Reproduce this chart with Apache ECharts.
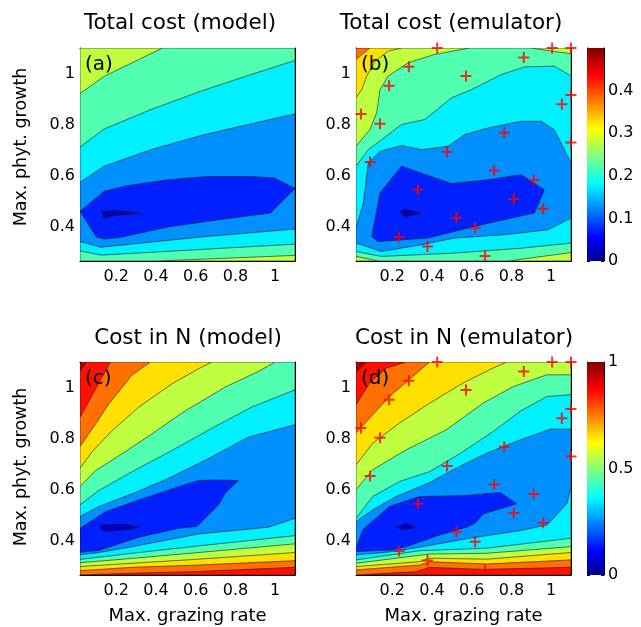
<!DOCTYPE html>
<html><head><meta charset="utf-8">
<script src="https://cdn.jsdelivr.net/npm/echarts@6/dist/echarts.min.js"></script>
<style>html,body{margin:0;padding:0;background:#fff}#c{width:641px;height:627px}</style>
</head><body><div id="c"></div>
<script>
// ---------- axis ranges and ticks ----------
const X_RANGE = [0.017, 1.1];
const Y_RANGE = [0.266, 1.1];
const X_TICKS = [0.2, 0.4, 0.6, 0.8, 1];
const Y_TICKS = [0.4, 0.6, 0.8, 1];
const CB_TOP_RANGE = [0, 0.5];
const CB_TOP_TICKS = [0, 0.1, 0.2, 0.3, 0.4];
const CB_BOTTOM_RANGE = [0, 1];
const CB_BOTTOM_TICKS = [0, 0.5, 1];

// band fill colours (jet, lowest band first)
const BAND_COLORS = ['#0000BF','#0020FF','#0090FF','#00F0FF','#50FFB0','#BFFF40','#FFE000','#FF7000','#FF1000','#B00000'];
// jet colormap stops for the colour bars
const JET_STOPS = [[0,'#00008F'],[0.111,'#0000FF'],[0.365,'#00FFFF'],[0.619,'#FFFF00'],[0.873,'#FF0000'],[1,'#800000']];

// ---------- contour levels ----------
const LEVELS_TOTAL = [0.35, 0.3, 0.25, 0.2, 0.15, 0.1, 0.05];
const LEVELS_N = [0.9, 0.8, 0.7, 0.6, 0.5, 0.4, 0.3, 0.2, 0.1];

// ---------- (a) Total cost (model): regions below each level ----------
const A_LT025 = [[0.017,0.922],[0.139,0.989],[0.433,1.1],[1.1,1.1],[1.1,0.288],[0.408,0.266],[0.017,0.266]];
const A_LT020 = [[0.017,0.712],[0.139,0.783],[0.374,0.859],[0.626,0.931],[0.878,0.996],[1.1,1.051],[1.1,0.332],[0.123,0.289],[0.017,0.306]];
const A_LT015 = [[0.017,0.574],[0.139,0.637],[0.374,0.702],[0.626,0.757],[0.878,0.803],[1.1,0.842],[1.1,0.391],[0.626,0.36],[0.123,0.32],[0.017,0.342]];
const A_LT010 = [[0.017,0.46],[0.139,0.539],[0.257,0.561],[0.458,0.584],[0.66,0.597],[0.878,0.597],[0.996,0.591],[1.1,0.55],[0.976,0.454],[0.71,0.427],[0.458,0.399],[0.223,0.359],[0.139,0.352],[0.101,0.359]];
const A_LT005 = [[0.128,0.46],[0.19,0.464],[0.316,0.454],[0.19,0.443],[0.136,0.434]];

// ---------- (b) Total cost (emulator) ----------
const B_LT035 = [[0.017,1.055],[0.087,1.1],[1.1,1.1],[1.1,0.266],[0.017,0.266]];
const B_LT030 = [[0.017,0.905],[0.046,0.937],[0.071,0.99],[0.113,1.048],[0.18,1.088],[0.25,1.1],[1.1,1.1],[1.1,0.266],[0.017,0.266]];
const B_LT025 = [[0.59,1.1],[0.9,1.1],[1.017,1.086],[1.1,1.078],[1.1,0.299],[0.782,0.266],[0.129,0.266],[0.017,0.284],[0.017,0.715],[0.087,0.78],[0.121,0.846],[0.138,0.937],[0.179,0.99],[0.28,1.042],[0.414,1.075]];
const B_LT020 = [[0.017,0.637],[0.079,0.702],[0.146,0.741],[0.246,0.8],[0.364,0.82],[0.498,0.905],[0.598,0.937],[0.749,0.996],[0.866,1.026],[1.016,1.029],[1.1,0.99],[1.1,0.336],[0.849,0.316],[0.514,0.297],[0.146,0.284],[0.017,0.303]];
const B_LT015 = [[0.017,0.395],[0.054,0.493],[0.079,0.65],[0.138,0.695],[0.246,0.718],[0.347,0.702],[0.481,0.715],[0.565,0.761],[0.682,0.787],[0.849,0.813],[0.949,0.813],[1.016,0.78],[1.1,0.65],[1.1,0.434],[0.983,0.388],[0.765,0.369],[0.514,0.356],[0.347,0.33],[0.146,0.303],[0.017,0.336]];
const B_LT010 = [[0.096,0.362],[0.138,0.532],[0.246,0.637],[0.347,0.61],[0.498,0.569],[0.682,0.584],[0.849,0.604],[0.966,0.545],[0.916,0.454],[0.682,0.414],[0.514,0.382],[0.38,0.356],[0.129,0.342]];
const B_LT005 = [[0.238,0.46],[0.263,0.469],[0.347,0.454],[0.263,0.438]];

// ---------- (c) Cost in N (model) ----------
const C_LT09 = [[0.017,1.063],[0.049,1.1],[1.1,1.1],[1.1,0.266],[0.017,0.266]];
const C_LT08 = [[0.017,0.884],[0.071,0.959],[0.121,1.031],[0.171,1.1],[1.1,1.1],[1.1,0.296],[0.615,0.28],[0.28,0.273],[0.017,0.266]];
const C_LT07 = [[0.017,0.769],[0.096,0.858],[0.163,0.937],[0.28,1.05],[0.372,1.1],[1.1,1.1],[1.1,0.322],[0.615,0.305],[0.28,0.296],[0.017,0.283]];
const C_LT06 = [[0.017,0.684],[0.079,0.75],[0.18,0.832],[0.314,0.924],[0.481,1.015],[0.615,1.074],[0.682,1.1],[1.1,1.1],[1.1,0.354],[0.615,0.328],[0.28,0.312],[0.017,0.299]];
const C_LT05 = [[0.017,0.612],[0.096,0.675],[0.23,0.741],[0.38,0.819],[0.548,0.909],[0.749,1.002],[0.916,1.063],[1.0,1.1],[1.1,1.1],[1.1,0.388],[0.615,0.354],[0.28,0.331],[0.017,0.314]];
const C_LT04 = [[0.017,0.541],[0.112,0.597],[0.28,0.671],[0.481,0.754],[0.682,0.841],[0.883,0.924],[1.1,0.991],[1.1,0.42],[0.615,0.38],[0.28,0.351],[0.017,0.327]];
const C_LT03 = [[0.017,0.495],[0.112,0.534],[0.28,0.584],[0.447,0.639],[0.648,0.715],[0.866,0.806],[1.1,0.854],[1.1,0.488],[0.966,0.453],[0.615,0.427],[0.28,0.377],[0.112,0.354],[0.017,0.345]];
const C_LT02 = [[0.017,0.449],[0.146,0.514],[0.314,0.56],[0.514,0.612],[0.615,0.636],[0.699,0.638],[0.815,0.636],[0.749,0.587],[0.715,0.541],[0.606,0.456],[0.514,0.449],[0.314,0.414],[0.112,0.362],[0.017,0.355]];
const C_LT01 = [[0.121,0.462],[0.255,0.465],[0.314,0.452],[0.272,0.445],[0.146,0.436],[0.121,0.447]];

// ---------- (d) Cost in N (emulator) ----------
const D_LT09 = [[0.017,1.059],[0.068,1.1],[1.1,1.1],[1.1,0.266],[0.017,0.266]];
const D_LT08 = [[0.017,0.932],[0.085,1.017],[0.169,1.076],[0.27,1.1],[1.1,1.1],[1.1,0.296],[0.658,0.288],[0.388,0.296],[0.321,0.279],[0.017,0.266]];
const D_LT07 = [[0.017,0.822],[0.085,0.88],[0.186,0.965],[0.304,1.044],[0.388,1.1],[1.1,1.1],[1.1,0.325],[0.675,0.309],[0.388,0.318],[0.338,0.305],[0.017,0.286]];
const D_LT06 = [[0.017,0.697],[0.101,0.782],[0.236,0.861],[0.388,0.939],[0.557,1.018],[0.709,1.077],[0.776,1.1],[1.1,1.1],[1.1,0.354],[0.675,0.328],[0.388,0.332],[0.338,0.318],[0.017,0.299]];
const D_LT05 = [[0.017,0.6],[0.101,0.678],[0.27,0.756],[0.473,0.835],[0.658,0.939],[0.81,1.004],[0.979,1.05],[1.1,1.05],[1.1,0.377],[0.675,0.351],[0.388,0.348],[0.017,0.312]];
const D_LT04 = [[0.017,0.488],[0.101,0.573],[0.236,0.632],[0.388,0.671],[0.54,0.741],[0.709,0.828],[0.844,0.907],[0.979,0.965],[1.1,0.972],[1.1,0.41],[0.675,0.371],[0.338,0.361],[0.017,0.325]];
const D_LT03 = [[0.017,0.475],[0.101,0.521],[0.219,0.573],[0.388,0.628],[0.506,0.678],[0.675,0.743],[0.844,0.795],[0.995,0.837],[1.1,0.837],[1.1,0.612],[1.08,0.547],[1.012,0.488],[0.979,0.462],[0.844,0.44],[0.591,0.41],[0.338,0.375],[0.169,0.355],[0.017,0.345]];
const D_LT02 = [[0.017,0.371],[0.051,0.443],[0.186,0.535],[0.338,0.573],[0.574,0.577],[0.743,0.589],[0.827,0.545],[0.658,0.505],[0.616,0.469],[0.574,0.453],[0.439,0.423],[0.27,0.377],[0.194,0.364],[0.017,0.358]];
const D_LT01 = [[0.219,0.453],[0.27,0.469],[0.316,0.453],[0.262,0.443]];

// ---------- emulator design points (red crosses) ----------
const DESIGN_X = [0.426,1.005,1.1,0.862,0.283,0.571,0.184,1.1,1.054,0.042,0.138,0.764,1.1,0.476,0.088,0.713,0.912,0.329,0.812,0.96,0.523,0.617,0.234,0.377,0.667];
const DESIGN_Y = [1.1,1.1,1.1,1.063,1.027,0.99,0.952,0.916,0.88,0.842,0.803,0.768,0.73,0.693,0.654,0.62,0.583,0.545,0.509,0.471,0.435,0.396,0.36,0.323,0.286];

// ---------- text ----------
const TITLES = ['Total cost (model)', 'Total cost (emulator)', 'Cost in N (model)', 'Cost in N (emulator)'];
const PANEL_TAGS = ['(a)', '(b)', '(c)', '(d)'];
const X_NAME = 'Max. grazing rate';
const Y_NAME = 'Max. phyt. growth';

// ================= build chart =================
const FONT = 'DejaVu Sans';
const FRAME = [[X_RANGE[0],Y_RANGE[0]],[X_RANGE[1],Y_RANGE[0]],[X_RANGE[1],Y_RANGE[1]],[X_RANGE[0],Y_RANGE[1]]];

const PANELS = [
  {levels: LEVELS_TOTAL.slice(2), polys: [A_LT025, A_LT020, A_LT015, A_LT010, A_LT005], step: 0.05},
  {levels: LEVELS_TOTAL, polys: [B_LT035, B_LT030, B_LT025, B_LT020, B_LT015, B_LT010, B_LT005], step: 0.05},
  {levels: LEVELS_N, polys: [C_LT09, C_LT08, C_LT07, C_LT06, C_LT05, C_LT04, C_LT03, C_LT02, C_LT01], step: 0.1},
  {levels: LEVELS_N, polys: [D_LT09, D_LT08, D_LT07, D_LT06, D_LT05, D_LT04, D_LT03, D_LT02, D_LT01], step: 0.1}
];

const GRIDS = [
  {left: 80, top: 48, width: 215, height: 213},
  {left: 356, top: 48, width: 215, height: 213},
  {left: 80, top: 362, width: 215, height: 213},
  {left: 356, top: 362, width: 215, height: 213},
  {left: 587, top: 48, width: 17, height: 213},
  {left: 587, top: 362, width: 17, height: 213}
];
const TITLE_POS = [[180, 23], [451, 23], [188, 338], [464, 338]];
const YNAME_POS = [[21, 147], [21, 467]];

const xAxes = [], yAxes = [], series = [];
const lineStyle = {color: '#000', width: 1};
const labelStyle = {fontFamily: FONT, fontSize: 16, color: '#000'};

for (let i = 0; i < 4; i++) {
  xAxes.push({type: 'value', gridIndex: i, min: X_RANGE[0], max: X_RANGE[1], position: 'bottom',
    axisLine: {show: true, onZero: false, lineStyle}, splitLine: {show: false},
    axisTick: {show: true, inside: true, length: 4, customValues: X_TICKS, lineStyle},
    axisLabel: Object.assign({customValues: X_TICKS, margin: 8}, labelStyle)});
  xAxes.push({type: 'value', gridIndex: i, min: X_RANGE[0], max: X_RANGE[1], position: 'top',
    axisLine: {show: true, onZero: false, lineStyle}, splitLine: {show: false},
    axisTick: {show: true, inside: true, length: 4, customValues: X_TICKS, lineStyle},
    axisLabel: {show: false}});
  yAxes.push({type: 'value', gridIndex: i, min: Y_RANGE[0], max: Y_RANGE[1], position: 'left',
    axisLine: {show: true, onZero: false, lineStyle}, splitLine: {show: false},
    axisTick: {show: true, inside: true, length: 4, customValues: Y_TICKS, lineStyle},
    axisLabel: Object.assign({customValues: Y_TICKS, margin: 5}, labelStyle)});
  yAxes.push({type: 'value', gridIndex: i, min: Y_RANGE[0], max: Y_RANGE[1], position: 'right',
    axisLine: {show: true, onZero: false, lineStyle}, splitLine: {show: false},
    axisTick: {show: true, inside: true, length: 4, customValues: Y_TICKS, lineStyle},
    axisLabel: {show: false}});

  const p = PANELS[i];
  const top = Math.round(p.levels[0] / p.step);
  const polys = [FRAME].concat(p.polys);
  const colors = [BAND_COLORS[top]].concat(p.levels.map(l => BAND_COLORS[Math.round(l / p.step) - 1]));
  series.push({
    type: 'custom', xAxisIndex: 2 * i, yAxisIndex: 2 * i, silent: true, clip: true, z: 2,
    data: polys.map(poly => poly[0]),
    renderItem: function (params, api) {
      const poly = polys[params.dataIndex];
      return {type: 'polygon', shape: {points: poly.map(pt => api.coord(pt))},
        style: {fill: colors[params.dataIndex], stroke: '#1a1a1a', lineWidth: 0.6}};
    }
  });
}

// colour bars
const CB = [{range: CB_TOP_RANGE, ticks: CB_TOP_TICKS}, {range: CB_BOTTOM_RANGE, ticks: CB_BOTTOM_TICKS}];
CB.forEach((cb, k) => {
  const g = 4 + k;
  xAxes.push({type: 'value', gridIndex: g, min: 0, max: 1, show: false});
  yAxes.push({type: 'value', gridIndex: g, min: cb.range[0], max: cb.range[1], position: 'right',
    axisLine: {show: true, onZero: false, lineStyle}, splitLine: {show: false},
    axisTick: {show: true, inside: true, length: 3, customValues: cb.ticks, lineStyle},
    axisLabel: Object.assign({customValues: cb.ticks, margin: 4}, labelStyle)});
  yAxes.push({type: 'value', gridIndex: g, min: cb.range[0], max: cb.range[1], position: 'left',
    axisLine: {show: true, onZero: false, lineStyle}, splitLine: {show: false},
    axisTick: {show: true, inside: true, length: 3, customValues: cb.ticks, lineStyle},
    axisLabel: {show: false}});
  series.push({
    type: 'custom', xAxisIndex: 8 + k, yAxisIndex: 8 + 2 * k, silent: true, z: 2,
    data: [[1, cb.range[1]]],
    renderItem: function (params, api) {
      const p0 = api.coord([0, cb.range[0]]);
      const p1 = api.coord([1, cb.range[1]]);
      return {type: 'rect', shape: {x: p0[0], y: p1[1], width: p1[0] - p0[0], height: p0[1] - p1[1]},
        style: {fill: new echarts.graphic.LinearGradient(0, 1, 0, 0, JET_STOPS.map(s => ({offset: s[0], color: s[1]})))}};
    }
  });
});

// design points on emulator panels
const plusPath = 'path://M4.5,0H6.5V4.5H11V6.5H6.5V11H4.5V6.5H0V4.5H4.5Z';
const designData = DESIGN_X.map((x, i) => [x, DESIGN_Y[i]]);
[1, 3].forEach(i => {
  series.push({type: 'scatter', xAxisIndex: 2 * i, yAxisIndex: 2 * i, data: designData, clip: false, z: 5,
    symbol: plusPath, symbolSize: 11, itemStyle: {color: '#FF0000'}, silent: true});
});

// text
const graphics = [];
GRIDS.slice(0, 4).forEach((g, i) => {
  graphics.push({type: 'text', x: TITLE_POS[i][0], y: TITLE_POS[i][1],
    style: {text: TITLES[i], font: '21.5px "DejaVu Sans"', fill: '#000', align: 'center', verticalAlign: 'middle'}});
  graphics.push({type: 'text', x: g.left + 5, y: g.top + 17, z: 10,
    style: {text: PANEL_TAGS[i], font: '20px "DejaVu Sans"', fill: '#000', align: 'left', verticalAlign: 'middle'}});
});
YNAME_POS.forEach(pos => {
  graphics.push({type: 'text', x: pos[0], y: pos[1], rotation: Math.PI / 2,
    style: {text: Y_NAME, font: '17.5px "DejaVu Sans"', fill: '#000', align: 'center', verticalAlign: 'middle'}});
});
[2, 3].forEach(i => {
  const g = GRIDS[i];
  graphics.push({type: 'text', x: g.left + g.width / 2, y: 616,
    style: {text: X_NAME, font: '18px "DejaVu Sans"', fill: '#000', align: 'center', verticalAlign: 'middle'}});
});

const chart = echarts.init(document.getElementById('c'));
chart.setOption({
  animation: false,
  backgroundColor: '#fff',
  grid: GRIDS,
  xAxis: xAxes,
  yAxis: yAxes,
  series: series,
  graphic: graphics
});
</script></body></html>
